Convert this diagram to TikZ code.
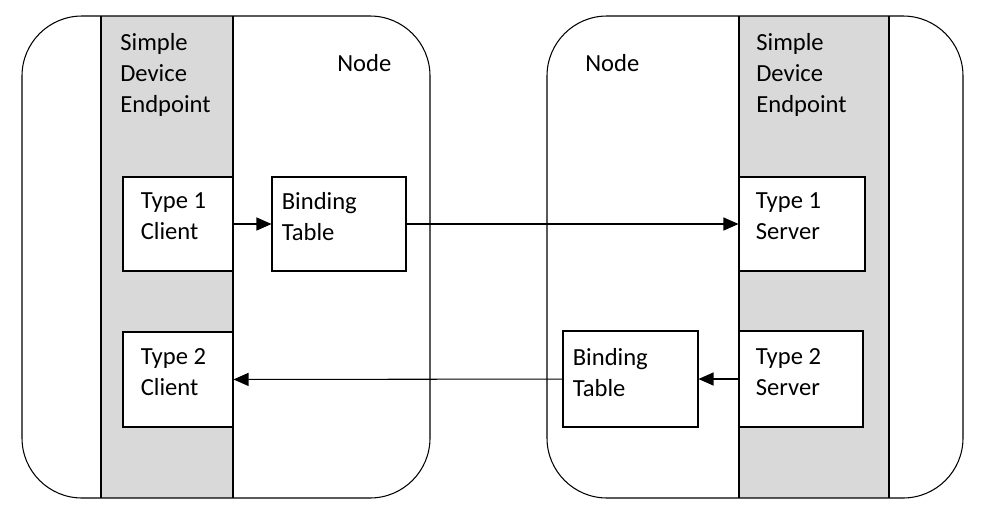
\documentclass[tikz,border=0pt]{standalone}
\usepackage{fontspec}
\setmainfont{Carlito}
\usetikzlibrary{arrows.meta}
\definecolor{bandgray}{RGB}{217,217,217}
\tikzset{
  box/.style={draw, fill=white, line width=0.6pt, inner sep=0pt},
  txt/.style={anchor=north west, inner sep=0pt, align=left, font=\fontsize{14}{17.6}\selectfont},
  arr/.style={-{Triangle[length=3mm,width=2.6mm]}, line width=0.6pt}
}
\begin{document}
\begin{tikzpicture}[x=0.02cm, y=-0.02cm]
    \useasboundingbox (0,0) rectangle (991,508);

    % Left node with its endpoint band
    \fill[bandgray] (101,16) rectangle (233,498);
    \draw[line width=0.6pt] (101,16) -- (101,498) (233,16) -- (233,498);
    \draw[line width=0.6pt, rounded corners=1.2cm] (22,16) rectangle (430,498);
    \node[txt] (sdeL) at (120,33) {Simple\\Device\\Endpoint};
    \node[txt] (nodeL) at (337,54) {Node};

    % Right node with its endpoint band
    \fill[bandgray] (739,16) rectangle (889,498);
    \draw[line width=0.6pt] (739,16) -- (739,498) (889,16) -- (889,498);
    \draw[line width=0.6pt, rounded corners=1.2cm] (547,16) rectangle (963,498);
    \node[txt] (sdeR) at (756,33) {Simple\\Device\\Endpoint};
    \node[txt] (nodeR) at (585,54) {Node};

    % Clusters and binding tables
    \node[box, minimum width=2.2cm, minimum height=1.88cm] (c1) at (178,224) {};
    \node[box, minimum width=2.68cm, minimum height=1.88cm] (bt1) at (339,224) {};
    \node[box, minimum width=2.52cm, minimum height=1.88cm] (s1) at (802,224) {};
    \node[box, minimum width=2.2cm, minimum height=1.9cm] (c2) at (178,379.5) {};
    \node[box, minimum width=2.7cm, minimum height=1.92cm] (bt2) at (630.5,379) {};
    \node[box, minimum width=2.48cm, minimum height=1.92cm] (s2) at (801,379) {};

    \node[txt] (c1t) at ([shift={(18,16)}]c1.north west) {Type 1\\Client};
    \node[txt] (bt1t) at ([shift={(10,16)}]bt1.north west) {Binding\\Table};
    \node[txt] (s1t) at ([shift={(17,16)}]s1.north west) {Type 1\\Server};
    \node[txt] (c2t) at ([shift={(18,17)}]c2.north west) {Type 2\\Client};
    \node[txt] (bt2t) at ([shift={(10,18)}]bt2.north west) {Binding\\Table};
    \node[txt] (s2t) at ([shift={(17,18)}]s2.north west) {Type 2\\Server};

    % Bindings
    \draw[arr] (c1) -- (bt1);
    \draw[arr] (bt1) -- (s1);
    \draw[arr] (s2) -- (bt2);
    \draw[arr] (bt2) -- (c2);
\end{tikzpicture}
\end{document}
